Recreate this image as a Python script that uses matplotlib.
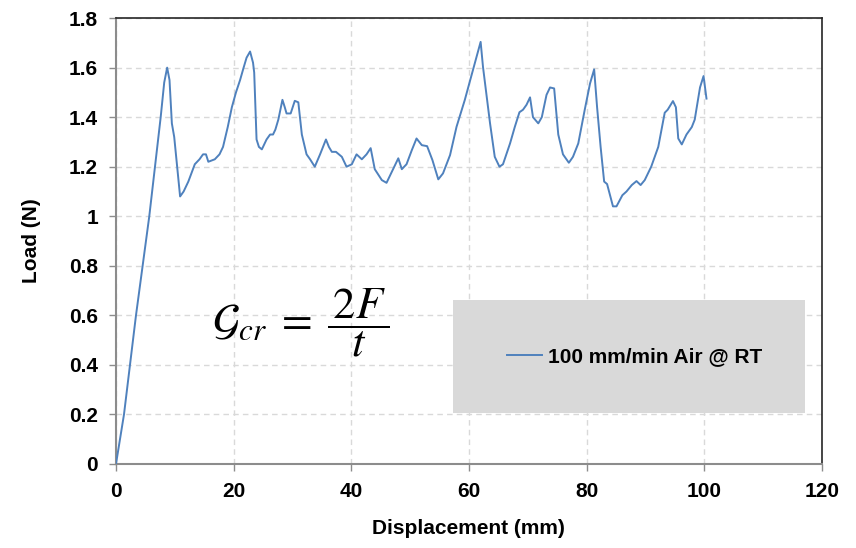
import matplotlib
matplotlib.use("Agg")
import matplotlib.pyplot as plt
from matplotlib.patches import Rectangle

# load-displacement trace, read point by point
displacement = [0, 1.36, 3.4, 5.66, 7.6, 8.2, 8.7, 9.1, 9.5, 9.9, 10.9, 11.5, 12.3, 13.4,
                14.2, 14.8, 15.3, 15.7, 16.8, 17.6, 18.2, 19.0, 19.7, 20.4, 21.1, 21.7,
                22.2, 22.8, 23.3, 23.5, 23.9, 24.3, 24.8, 25.6, 26.2, 26.7, 27.1, 27.6,
                28.3, 28.7, 29.0, 29.7, 30.4, 31.0, 31.6, 32.4, 33.0, 33.8, 34.7, 35.7,
                36.2, 36.7, 37.4, 38.4, 39.2, 40.1, 40.9, 41.8, 42.6, 43.3, 44.0, 45.2,
                46.0, 47.1, 48.0, 48.6, 49.4, 50.3, 51.1, 52.0, 52.9, 53.8, 54.8, 55.6,
                56.8, 57.9, 59.3, 60.7, 61.5, 62.0, 62.4, 63.6, 64.4, 65.2, 65.8, 67.0,
                67.8, 68.6, 69.2, 69.8, 70.4, 70.9, 71.8, 72.4, 73.2, 73.8, 74.5, 75.2,
                76.0, 77.0, 77.7, 78.6, 79.7, 80.6, 81.3, 81.8, 82.4, 83.0, 83.5, 84.5,
                85.1, 86.1, 86.8, 87.7, 88.5, 89.2, 89.9, 91.0, 92.2, 93.3, 93.8, 94.7,
                95.2, 95.6, 96.2, 97.0, 97.9, 98.4, 99.3, 99.9, 100.4]
load = [0, 0.2, 0.6, 1.0, 1.4, 1.54, 1.60, 1.55, 1.375, 1.32, 1.08, 1.10, 1.14, 1.21,
        1.23, 1.25, 1.25, 1.22, 1.23, 1.25, 1.28, 1.36, 1.44, 1.50, 1.55, 1.60,
        1.64, 1.665, 1.62, 1.58, 1.31, 1.28, 1.27, 1.31, 1.33, 1.33, 1.35, 1.39,
        1.47, 1.44, 1.415, 1.415, 1.466, 1.46, 1.33, 1.25, 1.23, 1.20, 1.25, 1.31,
        1.28, 1.26, 1.26, 1.24, 1.20, 1.21, 1.25, 1.23, 1.25, 1.275, 1.19, 1.146,
        1.135, 1.19, 1.234, 1.19, 1.21, 1.267, 1.314, 1.287, 1.283, 1.227, 1.149, 1.173,
        1.247, 1.361, 1.469, 1.59, 1.66, 1.704, 1.603, 1.375, 1.24, 1.20, 1.21, 1.294,
        1.36, 1.42, 1.43, 1.45, 1.48, 1.40, 1.375, 1.40, 1.49, 1.52, 1.516, 1.33,
        1.25, 1.216, 1.24, 1.294, 1.43, 1.536, 1.593, 1.44, 1.28, 1.14, 1.13, 1.04,
        1.04, 1.085, 1.10, 1.126, 1.142, 1.126, 1.146, 1.20, 1.28, 1.418, 1.43, 1.465,
        1.44, 1.314, 1.29, 1.33, 1.36, 1.39, 1.52, 1.566, 1.475]

series_label = "100 mm/min Air @ RT"
x_ticks = [0, 20, 40, 60, 80, 100, 120]
y_ticks = [0, 0.2, 0.4, 0.6, 0.8, 1, 1.2, 1.4, 1.6, 1.8]
y_tick_labels = ["0", "0.2", "0.4", "0.6", "0.8", "1", "1.2", "1.4", "1.6", "1.8"]

plt.rcParams['font.family'] = ['Liberation Sans', 'DejaVu Sans']
plt.rcParams['mathtext.fontset'] = 'stix'

fig = plt.figure(figsize=(8.56, 5.48), dpi=100)
ax = fig.add_axes([0.1355, 0.1533, 0.8245, 0.8137])

ax.plot(displacement, load, color='#4f81bd', lw=1.4, label=series_label, zorder=3)

ax.set_xlim(0, 120)
ax.set_ylim(0, 1.8)
ax.set_xticks(x_ticks)
ax.set_yticks(y_ticks)
ax.set_yticklabels(y_tick_labels)
ax.grid(True, color='#d9d9d9', lw=1, ls=(0, (4, 3)))
ax.set_axisbelow(True)

for side in ['left', 'bottom']:
    ax.spines[side].set_color('#8c8c8c')
    ax.spines[side].set_linewidth(1.5)
for side in ['top', 'right']:
    ax.spines[side].set_color('#262626')
    ax.spines[side].set_linewidth(1.2)

ax.tick_params(axis='both', direction='out', length=5, width=1, color='#8c8c8c',
               labelsize=15, pad=8)
for t in ax.get_xticklabels() + ax.get_yticklabels():
    t.set_fontweight('bold')

ax.set_xlabel("Displacement (mm)", fontsize=15, fontweight='bold', labelpad=13)
ax.set_ylabel("Load (N)", fontsize=15, fontweight='bold', labelpad=20)

# grey panel behind the legend
ax.add_patch(Rectangle((0.477, 0.114), 0.499, 0.254, transform=ax.transAxes,
                       facecolor='#d9d9d9', edgecolor='none', zorder=4))
leg = ax.legend(loc='center', bbox_to_anchor=(0.735, 0.24), frameon=False,
                handlelength=1.7, handletextpad=0.3,
                prop={'weight': 'bold', 'size': 15})
leg.set_zorder(5)

# critical energy release rate
ax.text(0.262, 0.318, r'$\mathcal{G}_{cr}\;=\;\dfrac{\,2F\,}{t}$', transform=ax.transAxes,
        fontsize=32, ha='center', va='center', zorder=4)

fig.savefig("out.png", dpi=100)
